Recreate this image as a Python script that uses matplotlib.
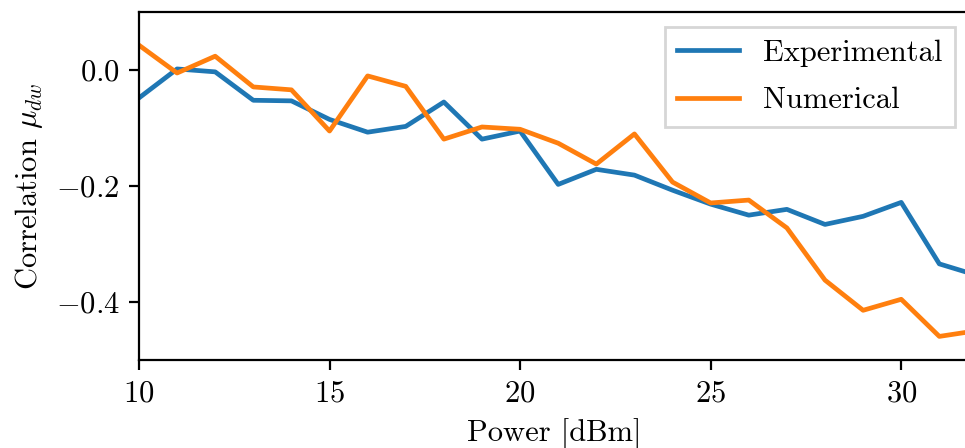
import numpy as np
import matplotlib.pyplot as plt

# ── DATA ──────────────────────────────────────────────────────────
power = list(range(10, 33))
experimental = [-0.048, 0.002, -0.003, -0.052, -0.053, -0.085, -0.107, -0.097,
                -0.055, -0.119, -0.105, -0.197, -0.171, -0.181, -0.207, -0.231,
                -0.250, -0.240, -0.266, -0.252, -0.228, -0.334, -0.354]
numerical = [0.043, -0.005, 0.024, -0.029, -0.034, -0.105, -0.010, -0.028,
             -0.119, -0.098, -0.102, -0.126, -0.162, -0.110, -0.193, -0.229,
             -0.224, -0.272, -0.362, -0.414, -0.395, -0.459, -0.449]

# ── STYLE ─────────────────────────────────────────────────────────
plt.rcParams.update({
    "font.family": "serif",
    "font.serif": ["cmr10"],
    "mathtext.fontset": "cm",
    "axes.formatter.use_mathtext": True,
    "font.size": 11,
})

fig = plt.figure(figsize=(4.825, 2.24), dpi=200)
ax = fig.add_axes([0.144, 0.196, 0.861, 0.777])

ax.plot(power, experimental, color="#1f77b4", linewidth=1.7, label="Experimental")
ax.plot(power, numerical, color="#ff7f0e", linewidth=1.7, label="Numerical")

ax.set_xlim(10, 31.8)
ax.set_ylim(-0.5, 0.1)
ax.set_xticks([10, 15, 20, 25, 30])
ax.set_yticks([0.0, -0.2, -0.4])
ax.set_xlabel("Power [dBm]")
ax.set_ylabel(r"Correlation $\mu_{dw}$")

ax.legend(loc="upper right", fancybox=False, labelspacing=0.65)

fig.savefig("out.png", dpi=200)
